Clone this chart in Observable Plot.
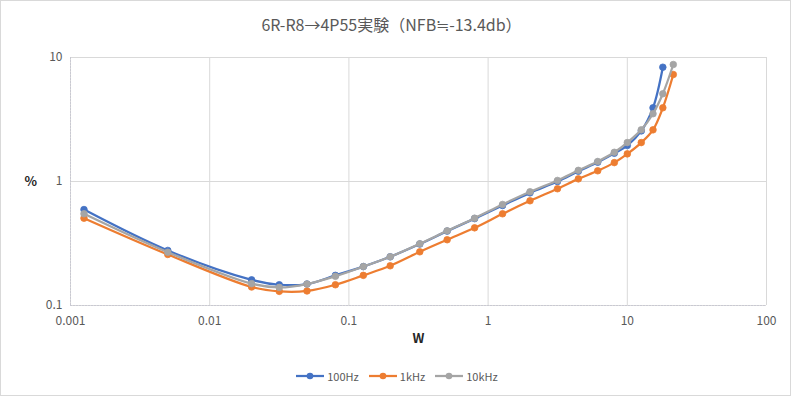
<!DOCTYPE html>
<html>
<head>
<meta charset="utf-8">
<script src="https://cdn.jsdelivr.net/npm/d3@7"></script>
<script src="https://cdn.jsdelivr.net/npm/@observablehq/plot@0.6"></script>
<style>
  html, body { margin: 0; padding: 0; background: #fff; }
  #wrap { position: relative; width: 791px; height: 396px; overflow: hidden; background: #fff; font-family: "Noto Sans CJK JP", "Noto Sans", sans-serif; }
  #title { position: absolute; left: 0; width: 783px; top: 12px; text-align: center; font-size: 16px; color: #595959; line-height: 24px; }
  #legend { position: absolute; left: 0; width: 794px; top: 368px; display: flex; justify-content: center; gap: 10px; font-size: 11px; color: #595959; line-height: 16px; }
  #legend .item { display: flex; align-items: center; gap: 3px; }
  #border { position: absolute; left: 0; top: 0; width: 789px; height: 394px; border: 1px solid #d9d9d9; pointer-events: none; }
</style>
</head>
<body>
<div id="wrap">
  <div id="title">6R-R8→4P55実験（NFB≒-13.4db）</div>
  <div id="chart"></div>
  <div id="legend"></div>
  <div id="border"></div>
</div>
<script>
// Output power (W)
const watts = [0.00125, 0.005, 0.02, 0.0316, 0.05, 0.08, 0.127, 0.198, 0.323, 0.508, 0.8, 1.27, 2.0, 3.15, 4.45, 6.13, 8.07, 10, 12.6, 15.3, 18.0, 21.4];
// Distortion (%) per frequency
const thd100Hz = [0.594, 0.278, 0.161, 0.147, 0.149, 0.175, 0.206, 0.247, 0.313, 0.398, 0.502, 0.64, 0.81, 1.0, 1.21, 1.43, 1.69, 1.95, 2.56, 3.93, 8.35, null];
const thd1kHz  = [0.506, 0.258, 0.141, 0.130, 0.131, 0.147, 0.175, 0.209, 0.271, 0.339, 0.423, 0.549, 0.699, 0.874, 1.05, 1.22, 1.42, 1.67, 2.06, 2.61, 3.93, 7.29];
const thd10kHz = [0.549, 0.269, 0.150, 0.140, 0.149, 0.172, 0.206, 0.247, 0.315, 0.400, 0.506, 0.653, 0.826, 1.02, 1.23, 1.45, 1.72, 2.06, 2.61, 3.52, 5.1, 8.78];

const seriesNames = ["100Hz", "1kHz", "10kHz"];
const seriesColors = ["#4472C4", "#ED7D31", "#A5A5A5"];
const seriesValues = [thd100Hz, thd1kHz, thd10kHz];

const xTicks = [0.001, 0.01, 0.1, 1, 10, 100];
const xTickLabels = ["0.001", "0.01", "0.1", "1", "10", "100"];
const yTicks = [0.1, 1, 10];
const yTickLabels = ["0.1", "1", "10"];
const xLabel = "W";
const yLabel = "%";

function labelFor(ticks, labels) {
  return d => {
    const i = ticks.findIndex(t => Math.abs(Math.log10(t) - Math.log10(+d)) < 1e-6);
    return i >= 0 ? labels[i] : "";
  };
}

const rows = [];
seriesValues.forEach((vals, si) => {
  vals.forEach((v, i) => rows.push({ series: seriesNames[si], w: watts[i], pct: v }));
});

const marks = [
  Plot.gridX(xTicks, { stroke: "#d9d9d9", strokeOpacity: 1, strokeWidth: 1 }),
  Plot.gridY(yTicks, { stroke: "#d9d9d9", strokeOpacity: 1, strokeWidth: 1 }),
  Plot.ruleX([0.001], { stroke: "#c9c9d2", strokeDasharray: "2,1" }),
  Plot.ruleY([0.1], { stroke: "#c9c9d2", strokeDasharray: "2,1" }),
  Plot.axisX({ ticks: xTicks, tickSize: 0, tickPadding: 11, fontSize: 12, color: "#595959", tickFormat: labelFor(xTicks, xTickLabels), label: null }),
  Plot.axisY({ ticks: yTicks, tickSize: 0, tickPadding: 8, fontSize: 12, color: "#595959", tickFormat: labelFor(yTicks, yTickLabels), label: null }),
  Plot.text([yLabel], { frameAnchor: "left", dx: -46, text: d => d, fontSize: 13, fontWeight: "bold", fill: "#262626" }),
  Plot.text([xLabel], { frameAnchor: "bottom", dy: 37, text: d => d, fontSize: 13, fontWeight: "bold", fill: "#262626" })
];
seriesNames.forEach((name, si) => {
  const data = rows.filter(r => r.series === name && r.pct != null);
  marks.push(Plot.line(data, { x: "w", y: "pct", stroke: seriesColors[si], strokeWidth: 2.25, curve: "catmull-rom" }));
  marks.push(Plot.dot(data, { x: "w", y: "pct", r: 3.3, fill: seriesColors[si], stroke: seriesColors[si], strokeWidth: 0.8 }));
});

const chart = Plot.plot({
  width: 791,
  height: 396,
  marginLeft: 70,
  marginRight: 25,
  marginTop: 57,
  marginBottom: 91,
  style: { fontFamily: "'Noto Sans CJK JP', 'Noto Sans', sans-serif", background: "transparent" },
  x: { type: "log", domain: [0.001, 100] },
  y: { type: "log", domain: [0.1, 10] },
  marks
});
document.getElementById("chart").appendChild(chart);

const legend = document.getElementById("legend");
seriesNames.forEach((name, si) => {
  const item = document.createElement("div");
  item.className = "item";
  const c = seriesColors[si];
  item.innerHTML = `<svg width="28" height="10"><line x1="0" y1="5" x2="28" y2="5" stroke="${c}" stroke-width="2.25"/><circle cx="14" cy="5" r="3.3" fill="${c}"/></svg><span>${name}</span>`;
  legend.appendChild(item);
});
</script>
</body>
</html>
